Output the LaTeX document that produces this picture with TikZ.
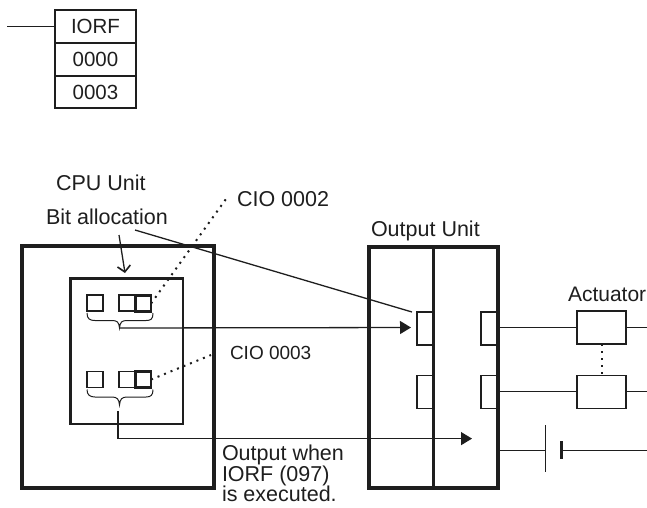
\documentclass[tikz,border=0pt]{standalone}
\usepackage{fontspec}
\setmainfont{Liberation Sans}
\usetikzlibrary{arrows.meta,calc}
\definecolor{ink}{HTML}{1E1E1E}
\tikzset{
  px/.style={x=1pt,y=-1pt},
  wbox/.style n args={2}{rectangle,inner sep=0pt,outer sep=0pt,minimum width=#1pt,minimum height=#2pt},
  frameheavy/.style={draw=ink,line width=3.2pt},
  framemedium/.style={draw=ink,line width=2.6pt},
  framethin/.style={draw=ink,line width=1.3pt},
  thinwire/.style={draw=ink,line width=1pt},
  wire/.style={draw=ink,line width=1.3pt},
  dots/.style={draw=ink,line width=2pt,dash pattern=on 2pt off 5pt},
  solidarrow/.style={wire,-{Triangle[length=11pt,width=13pt]}},
  label/.style={text=ink,inner sep=0pt,outer sep=0pt,font=\fontsize{21.5}{20.5}\selectfont,anchor=west},
  smalllabel/.style={label,font=\fontsize{19}{20}\selectfont},
  stacktext/.style={text=ink,inner sep=0pt,font=\fontsize{20.5}{21}\selectfont}
}
\begin{document}
\begin{tikzpicture}[px]
\useasboundingbox (0,0) rectangle (647,507);
% Ladder instruction
\node[wbox={81}{33},framethin,stacktext] (iorf) at (95.5,26.5) {IORF};
\node[wbox={81}{33},framethin,stacktext] (op1) at (95.5,59.5) {0000};
\node[wbox={81}{32},framethin,stacktext] (op2) at (95.5,92) {0003};
\coordinate (rung) at (7,26.5);
\draw[wire] (rung) -- (iorf.west);
% Labels
\node[label] (cpulabel) at (56,183) {CPU Unit};
\node[label] (bitlabel) at (46,217) {Bit allocation};
\node[label] (cio2) at (237,199) {CIO 0002};
\node[smalllabel] (cio3) at (230,353) {CIO 0003};
\node[label] (outlabel) at (371,231) {Output Unit};
\node[label,font=\fontsize{21}{22}\selectfont] (actlabel) at (568,294) {Actuator};
\node[label,align=left,anchor=north west] (exec) at (222,445) {Output when\\IORF (097)\\is executed.};
% CPU unit
\node[wbox={192}{242},frameheavy] (cpu) at (118,367) {};
\node[wbox={112.4}{145.4},framemedium] (mem) at (126.8,351.3) {};
\node[wbox={16}{16},framethin] (a1) at (95,303) {};
\node[wbox={16}{16},framethin] (a2) at (127,303) {};
\node[wbox={15.6}{15.6},framemedium] (a3) at (143.3,303.4) {};
\node[wbox={16}{16},framethin] (b1) at (95,379.5) {};
\node[wbox={16}{16},framethin] (b2) at (127,379.5) {};
\node[wbox={15.6}{15.6},framemedium] (b3) at (143.3,379.5) {};
% Braces
\draw[thinwire] (87,313) .. controls (87,319) and (90,320.5) .. (95,320.5) -- (112,320.5) .. controls (117,320.5) and (119,322) .. (119.5,328) .. controls (120,322) and (122,320.5) .. (127,320.5) -- (146,320.5) .. controls (151,320.5) and (153,319) .. (153,313);
\coordinate (tipA) at (119.5,328);
\draw[thinwire] (87,389.5) .. controls (87,395) and (90,397) .. (95,397) -- (112,397) .. controls (117,397) and (119,399) .. (119.5,405) .. controls (120,399) and (122,397) .. (127,397) -- (146,397) .. controls (151,397) and (153,395) .. (153,389.5);
\coordinate (tipB) at (118,411);
% Output unit
\node[wbox={129}{241},frameheavy] (out) at (433.5,367.5) {};
\coordinate (divT) at (433.5,247);
\coordinate (divB) at (433.5,488);
\draw[draw=ink,line width=3pt] (divT) -- (divB);
\node[wbox={16}{33},framethin] (i1) at (425,328.5) {};
\node[wbox={16}{33},framethin] (i2) at (425,392) {};
\node[wbox={16}{33},framethin] (o1) at (489,328.5) {};
\node[wbox={16}{33},framethin] (o2) at (489,392) {};
% Actuators
\node[wbox={49}{33},framethin] (act1) at (601.5,327.5) {};
\node[wbox={49}{33},framethin] (act2) at (601.5,392) {};
\coordinate (r1) at (647,327.5);
\coordinate (r2) at (647,391.6);
\coordinate (r3) at (647,450);
\coordinate (l1) at (out.east |- act1);
\coordinate (l2) at (out.east |- r2);
\coordinate (l3) at (out.east |- r3);
\coordinate (a2w) at (act2.west |- r2);
\coordinate (a2e) at (act2.east |- r2);
\draw[wire] (l1) -- (act1.west);
\draw[wire] (act1.east) -- (r1);
\draw[wire] (l2) -- (a2w);
\draw[wire] (a2e) -- (r2);
\draw[dots] (act1.south) -- (act2.north);
% Battery
\coordinate (platelong) at (545,450);
\coordinate (plateshort) at (561,450);
\draw[thinwire] (l3) -- (platelong);
\draw[thinwire] (plateshort) -- (r3);
\draw[draw=ink,line width=1pt] ($(platelong)+(0,-25)$) -- ($(platelong)+(0,22)$);
\draw[draw=ink,line width=3pt] ($(plateshort)+(0,-9)$) -- ($(plateshort)+(0,9)$);
% Connectors
\coordinate (endA) at (411,327.5);
\coordinate (endB) at (472,438.6);
\draw[solidarrow] (tipA) -- (endA);
\draw[solidarrow] (tipB) |- (endB);
\coordinate (bitend) at (412,312);
\coordinate (bitstart) at (135,230);
\draw[wire] (bitstart) -- (bitend);
\coordinate (memarrow) at (125,273);
\coordinate (bitarrow) at (119,235);
\draw[draw=ink,line width=1.3pt,-{Straight Barb[length=6pt,width=13pt,line width=1.6pt]}] (bitarrow) -- (memarrow);
\coordinate (dotA) at (226,199);
\coordinate (dotB) at (211,355);
\draw[dots] (a3.east) -- (dotA);
\draw[dots] (b3.east) -- (dotB);
\end{tikzpicture}
\end{document}
